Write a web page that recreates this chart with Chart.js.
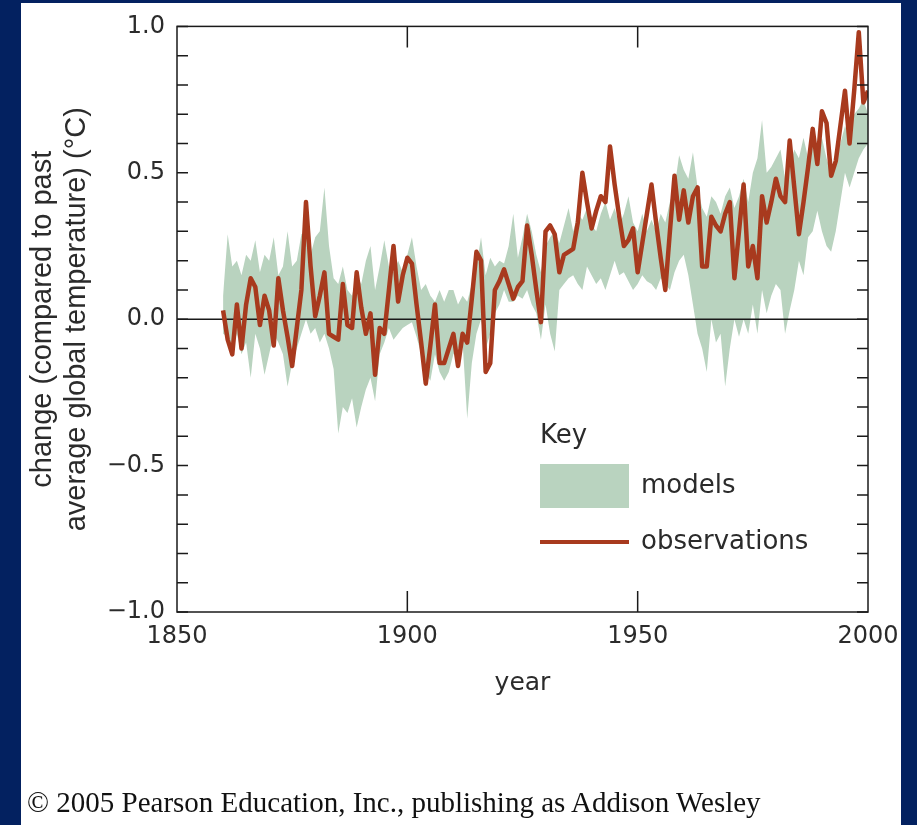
<!DOCTYPE html>
<html>
<head>
<meta charset="utf-8">
<title>Global temperature change: models and observations</title>
<script src="https://cdn.jsdelivr.net/npm/chart.js@4.4.1/dist/chart.umd.min.js"></script>
<style>
  html, body { margin: 0; padding: 0; width: 917px; height: 825px; overflow: hidden; background: #032160; }
  #panel { position: absolute; left: 21px; top: 3px; width: 880px; height: 822px; background: #fff; }
  #wrap { position: absolute; left: 0; top: 0; width: 917px; height: 825px; }
  .navy { position: absolute; background: #032160; }
  #copy {
    position: absolute; left: 27px; top: 787px;
    font-family: "Liberation Serif", "Times New Roman", serif;
    font-size: 29px; line-height: 30px; color: #111; white-space: nowrap;
  }
</style>
</head>
<body>
<div id="panel"></div>
<div id="wrap"><canvas id="chart" width="917" height="825"></canvas></div>
<div class="navy" style="left:901px; top:0; width:16px; height:825px"></div>
<div class="navy" style="left:0; top:0; width:21px; height:825px"></div>
<div class="navy" style="left:0; top:0; width:917px; height:3px"></div>
<div id="copy">© 2005 Pearson Education, Inc., publishing as Addison Wesley</div>

<script>
// first year of both series, one value per year up to 2000
const firstYear = 1860;

// observed change (°C)
const observations = [
  0.03, -0.07, -0.12, 0.05, -0.10, 0.05, 0.14, 0.11, -0.02, 0.08,
  0.03, -0.09, 0.14, 0.03, -0.06, -0.16, -0.03, 0.10, 0.40, 0.18,
  0.01, 0.08, 0.16, -0.05, -0.06, -0.07, 0.12, -0.02, -0.03, 0.16,
  0.04, -0.05, 0.02, -0.19, -0.03, -0.05, 0.10, 0.25, 0.06, 0.15,
  0.21, 0.19, 0.05, -0.08, -0.22, -0.09, 0.05, -0.15, -0.15, -0.10,
  -0.05, -0.16, -0.05, -0.08, 0.07, 0.23, 0.20, -0.18, -0.15, 0.10,
  0.13, 0.17, 0.12, 0.07, 0.11, 0.13, 0.32, 0.22, 0.10, -0.01,
  0.30, 0.32, 0.29, 0.16, 0.22, 0.23, 0.24, 0.33, 0.50, 0.40,
  0.31, 0.37, 0.42, 0.40, 0.59, 0.46, 0.35, 0.25, 0.27, 0.31,
  0.16, 0.26, 0.36, 0.46, 0.33, 0.21, 0.10, 0.30, 0.49, 0.34,
  0.44, 0.33, 0.42, 0.45, 0.18, 0.18, 0.35, 0.32, 0.30, 0.36,
  0.40, 0.14, 0.30, 0.46, 0.18, 0.25, 0.14, 0.42, 0.33, 0.40,
  0.48, 0.42, 0.40, 0.61, 0.45, 0.29, 0.40, 0.52, 0.65, 0.53,
  0.71, 0.67, 0.49, 0.54, 0.66, 0.78, 0.60, 0.78, 0.98, 0.74,
  0.78
];

// top edge of the model range
const modelsHigh = [
  0.08, 0.29, 0.18, 0.20, 0.15, 0.22, 0.20, 0.27, 0.16, 0.22,
  0.20, 0.28, 0.15, 0.18, 0.30, 0.18, 0.20, 0.29, 0.30, 0.22,
  0.28, 0.30, 0.45, 0.25, 0.14, 0.12, 0.18, 0.10, 0.08, 0.15,
  0.12, 0.20, 0.25, 0.10, 0.18, 0.27, 0.18, 0.16, 0.20, 0.16,
  0.22, 0.28, 0.18, 0.10, 0.12, 0.08, 0.06, 0.10, 0.06, 0.10,
  0.10, 0.05, 0.08, 0.06, 0.12, 0.18, 0.28, 0.15, 0.21, 0.18,
  0.20, 0.19, 0.25, 0.36, 0.21, 0.28, 0.36, 0.30, 0.22, 0.16,
  0.25, 0.28, 0.30, 0.26, 0.32, 0.38, 0.30, 0.36, 0.34, 0.38,
  0.32, 0.30, 0.36, 0.40, 0.34, 0.38, 0.32, 0.36, 0.42, 0.33,
  0.30, 0.36, 0.30, 0.34, 0.30, 0.36, 0.33, 0.40, 0.45, 0.56,
  0.51, 0.48, 0.57, 0.45, 0.38, 0.35, 0.42, 0.40, 0.36, 0.42,
  0.45, 0.38, 0.42, 0.48, 0.40, 0.50, 0.55, 0.68, 0.50, 0.52,
  0.55, 0.58, 0.48, 0.52, 0.58, 0.55, 0.62, 0.55, 0.60, 0.58,
  0.62, 0.55, 0.50, 0.55, 0.60, 0.66, 0.62, 0.70, 0.72, 0.75,
  0.70
];

// bottom edge of the model range
const modelsLow = [
  -0.05, -0.06, -0.10, -0.05, -0.12, -0.08, -0.20, -0.05, -0.10, -0.19,
  -0.12, -0.05, -0.08, -0.12, -0.23, -0.15, -0.10, -0.05, 0.00, -0.05,
  -0.03, -0.08, -0.05, -0.10, -0.17, -0.39, -0.30, -0.32, -0.27, -0.37,
  -0.30, -0.24, -0.20, -0.28, -0.12, -0.08, -0.03, -0.07, -0.05, -0.03,
  -0.02, -0.01, -0.06, -0.12, -0.18, -0.21, -0.12, -0.18, -0.21, -0.18,
  -0.12, -0.10, -0.08, -0.34, -0.15, -0.05, 0.00, -0.10, -0.05, 0.02,
  0.05, 0.10, 0.06, 0.06, 0.08, 0.07, 0.10, 0.05, 0.02, -0.07,
  0.05, -0.05, -0.11, 0.10, 0.12, 0.14, 0.15, 0.12, 0.10, 0.18,
  0.15, 0.12, 0.14, 0.10, 0.15, 0.20, 0.15, 0.16, 0.13, 0.10,
  0.12, 0.15, 0.13, 0.12, 0.10, 0.14, 0.12, 0.10, 0.16, 0.20,
  0.22, 0.15, 0.05, -0.05, -0.10, -0.18, 0.00, -0.08, -0.05, -0.23,
  -0.10, 0.00, -0.06, 0.00, -0.05, 0.05, -0.05, 0.10, 0.02, 0.08,
  0.12, 0.10, -0.05, 0.03, 0.10, 0.20, 0.15, 0.28, 0.30, 0.37,
  0.30, 0.25, 0.23, 0.30, 0.40, 0.50, 0.45, 0.50, 0.55, 0.58,
  0.60
];

const years = observations.map((v, i) => firstYear + i);

const sansFont = '"DejaVu Sans", "Liberation Sans", Arial, sans-serif';
const textColor = "#2b2b2b";
const lineColor = "#a83a1e";
const bandColor = "#b9d3bf";

function toPoints(values) {
  return values.map((v, i) => ({ x: years[i], y: v }));
}

function fmtTemp(v) {
  if (Math.abs(v) < 1e-9) return "0.0";
  return (v < 0 ? "\u2212" : "") + Math.abs(v).toFixed(1);
}

// zero line under the observations, frame and inward ticks on top
const axesPlugin = {
  id: "axesFrame",
  beforeDatasetDraw(chart, args) {
    if (args.index !== 2) return;
    const { ctx, chartArea: a, scales: { y } } = chart;
    const y0 = y.getPixelForValue(0);
    ctx.save();
    ctx.strokeStyle = "#1a1a1a";
    ctx.lineWidth = 1.5;
    ctx.beginPath();
    ctx.moveTo(a.left, y0);
    ctx.lineTo(a.right, y0);
    ctx.stroke();
    ctx.restore();
  },
  afterDraw(chart) {
    const { ctx, chartArea: a, scales: { x, y } } = chart;
    ctx.save();
    ctx.strokeStyle = "#1a1a1a";
    ctx.lineWidth = 1.5;
    ctx.strokeRect(a.left, a.top, a.right - a.left, a.bottom - a.top);
    ctx.beginPath();
    y.ticks.forEach(t => {
      const py = y.getPixelForValue(t.value);
      ctx.moveTo(a.left, py);
      ctx.lineTo(a.left + 11, py);
      ctx.moveTo(a.right, py);
      ctx.lineTo(a.right - 11, py);
    });
    x.ticks.forEach(t => {
      if (t.value <= x.min || t.value >= x.max) return;
      const px = x.getPixelForValue(t.value);
      ctx.moveTo(px, a.top);
      ctx.lineTo(px, a.top + 21);
      ctx.moveTo(px, a.bottom);
      ctx.lineTo(px, a.bottom - 21);
    });
    ctx.stroke();
    ctx.restore();
  }
};

// the "Key" box inside the plot
const keyPlugin = {
  id: "keyBox",
  afterDraw(chart) {
    const ctx = chart.ctx;
    const ds = chart.data.datasets;
    ctx.save();
    ctx.font = "26px " + sansFont;
    ctx.textAlign = "left";
    ctx.textBaseline = "middle";
    ctx.fillStyle = textColor;
    ctx.fillText("Key", 540, 436);
    ctx.fillStyle = ds[0].backgroundColor;
    ctx.fillRect(540, 464, 89, 44);
    ctx.fillStyle = textColor;
    ctx.fillText(ds[0].label, 641, 486);
    ctx.strokeStyle = ds[2].borderColor;
    ctx.lineWidth = 4;
    ctx.beginPath();
    ctx.moveTo(540, 542);
    ctx.lineTo(629, 542);
    ctx.stroke();
    ctx.fillText(ds[2].label, 641, 542);
    ctx.restore();
  }
};

new Chart(document.getElementById("chart"), {
  type: "line",
  data: {
    datasets: [
      {
        label: "models",
        data: toPoints(modelsHigh),
        borderColor: "transparent",
        borderWidth: 0,
        backgroundColor: bandColor,
        pointRadius: 0,
        fill: "+1",
        order: 2
      },
      {
        label: "models low",
        data: toPoints(modelsLow),
        borderColor: "transparent",
        borderWidth: 0,
        pointRadius: 0,
        fill: false,
        order: 3
      },
      {
        label: "observations",
        data: toPoints(observations),
        borderColor: lineColor,
        borderWidth: 4.5,
        borderJoinStyle: "round",
        pointRadius: 0,
        fill: false,
        order: 1
      }
    ]
  },
  options: {
    responsive: false,
    animation: false,
    events: [],
    layout: { padding: { top: 24, right: 49, bottom: 126, left: 0 } },
    plugins: {
      legend: { display: false },
      tooltip: { enabled: false }
    },
    scales: {
      x: {
        type: "linear",
        min: 1850,
        max: 2000,
        grid: { display: false, drawTicks: false },
        border: { display: false },
        ticks: {
          stepSize: 50,
          padding: 10,
          color: textColor,
          font: { family: sansFont, size: 24 },
          callback: v => String(v)
        },
        title: {
          display: true,
          text: "year",
          color: textColor,
          padding: 0,
          font: { family: sansFont, size: 25, lineHeight: 1.25 }
        },
        afterFit: s => { s.height = 87; }
      },
      y: {
        min: -1,
        max: 1,
        grid: { display: false, drawTicks: false },
        border: { display: false },
        ticks: {
          stepSize: 0.1,
          autoSkip: false,
          padding: 12,
          color: textColor,
          font: { family: sansFont, size: 24 },
          callback: v => (Math.abs(v * 2 - Math.round(v * 2)) < 1e-6 ? fmtTemp(v) : "")
        },
        title: {
          display: true,
          text: ["change (compared to past", "average global temperature) (\u00b0C)"],
          color: textColor,
          padding: { top: 26, bottom: 0 },
          font: { family: '"Liberation Sans", Arial, sans-serif', size: 29, lineHeight: 1.17 }
        },
        afterFit: s => { s.width = 177; }
      }
    }
  },
  plugins: [axesPlugin, keyPlugin]
});
</script>
</body>
</html>
